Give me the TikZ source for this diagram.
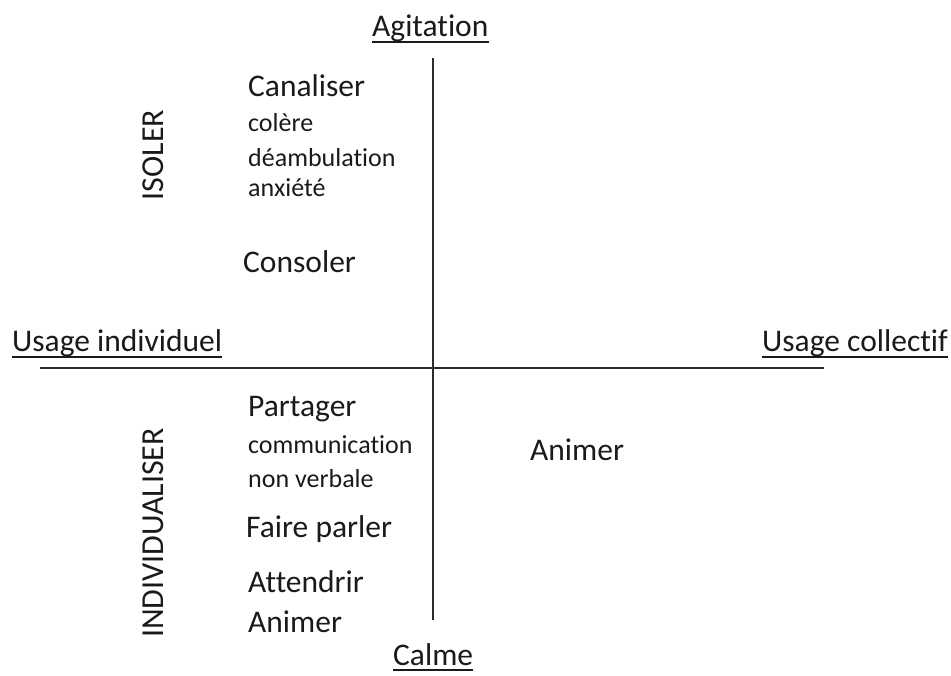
\documentclass[tikz,border=0pt]{standalone}
\usepackage{fontspec}
\setmainfont[Ligatures={NoCommon,NoRequired,NoContextual}]{Carlito}
\definecolor{ink}{HTML}{1A1A1A}
\definecolor{axis}{HTML}{2B2B2B}
\begin{document}
\begin{tikzpicture}[x=1pt,y=-1pt,
  big/.style={anchor=base west,inner sep=0pt,text=ink,font=\fontsize{31.5}{31.5}\selectfont},
  small/.style={anchor=base west,inner sep=0pt,text=ink,font=\fontsize{26}{26}\selectfont},
  side/.style={inner sep=0pt,text=ink,rotate=90,font=\fontsize{32}{32}\selectfont},
  axisline/.style={draw=axis,line width=2pt},
  uline/.style={draw=ink,line width=1.8pt}]
\useasboundingbox (0,0) rectangle (951,676);
% axis labels
\node[big] (agit) at (372,37) {Agitation};
\node[big] (calme) at (393,665) {Calme};
\node[big] (uind) at (12,352) {Usage individuel};
\node[big] (ucol) at (762,352) {Usage collectif};
\draw[uline] ([yshift=-5pt]agit.base west) -- ([yshift=-5pt]agit.base east);
\draw[uline] ([yshift=-5pt]calme.base west) -- ([yshift=-5pt]calme.base east);
\draw[uline] ([yshift=-5pt]uind.base west) -- ([yshift=-5pt]uind.base east);
\draw[uline] ([yshift=-5pt]ucol.base west) -- ([yshift=-5pt]ucol.base east);
% axes
\coordinate (vtop) at (433,58);
\coordinate (vbot) at (433,620);
\coordinate (hl) at (40,368);
\coordinate (hr) at (824,368);
\draw[axisline] (vtop) -- (vbot);
\draw[axisline] (hl) -- (hr);
% side labels
\node[side] (isoler) at (153,155) {ISOLER};
\node[side] (indiv) at (153,533) {INDIVIDUALISER};
% upper left quadrant
\node[big] (canal) at (248,97) {Canaliser};
\node[small] (colere) at (248,132) {colère};
\node[small] (deamb) at (248,167) {déambulation};
\node[small] (anx) at (248,197) {anxiété};
\node[big] (conso) at (243,273) {Consoler};
% lower left quadrant
\node[big] (part) at (248,417) {Partager};
\node[small] (comm) at (248,453) {communication};
\node[small] (nonv) at (248,487) {non verbale};
\node[big] (faire) at (246,537) {Faire parler};
\node[big] (att) at (248,592) {Attendrir};
\node[big] (anim1) at (248,632) {Animer};
% lower right quadrant
\node[big] (anim2) at (530,460) {Animer};
\end{tikzpicture}
\end{document}
